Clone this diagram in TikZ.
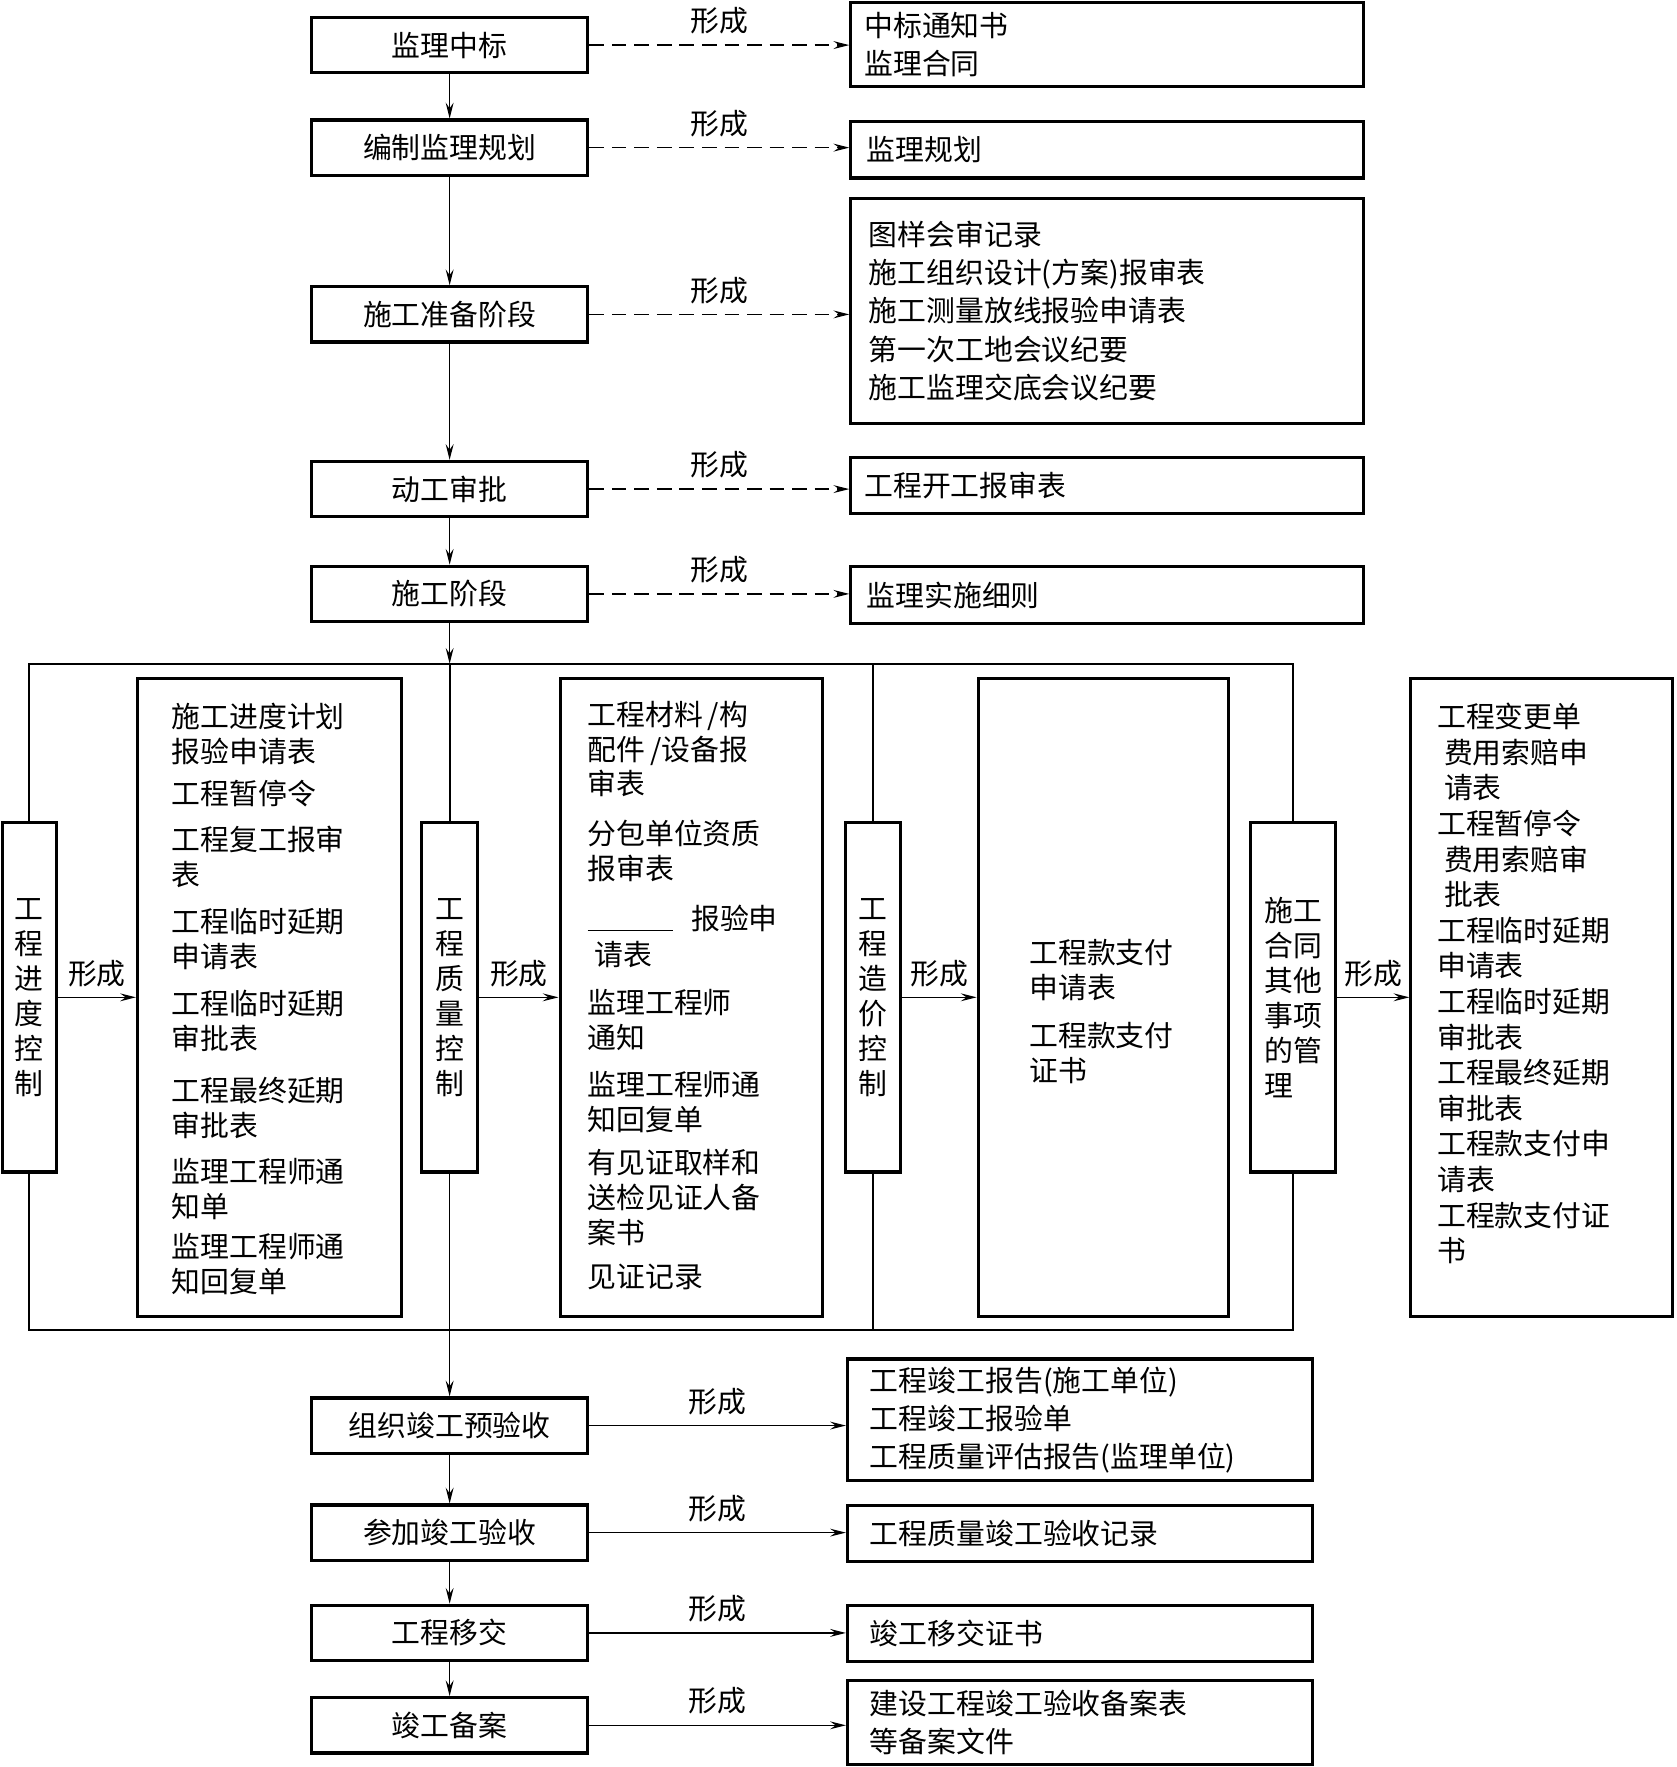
\documentclass[tikz,border=0pt]{standalone}
\usepackage{fontspec}
\setmainfont{Noto Sans CJK SC}
\usepackage{tikz}
\usetikzlibrary{positioning, arrows.meta, calc}

\tikzset{
  stagebox/.style={draw, line width=1.4pt, minimum width=122.5pt, minimum height=24.5pt, inner sep=0pt},
  docbox/.style={draw, line width=1.4pt, align=left, inner ysep=0pt, text width=#1,
    font=\fontsize{12.8pt}{17pt}\selectfont},
  ctrlbox/.style={draw, line width=1.4pt, minimum height=155pt, inner sep=0pt},
  listbox/.style={draw, line width=1.4pt, minimum height=283pt, inner sep=0pt},
  listtext/.style={anchor=north west, align=left, inner sep=0pt},
  flow/.style={line width=0.6pt, -{Stealth[length=7pt, width=3.5pt, inset=2.5pt]}},
  form/.style={flow, dash pattern=on 6.5pt off 3.5pt},
  frame/.style={line width=0.9pt},
  tag/.style={above=3.5pt, inner sep=1pt},
}

\begin{document}
\begin{tikzpicture}[x=0.5pt, y=-0.5pt, font=\fontsize{12.8pt}{15.5pt}\selectfont]
  \useasboundingbox (0,0) rectangle (1488,1568);

  % main stages
  \node[stagebox] (s1) at (399,40) {监理中标};
  \node[stagebox] (s2) at (399,131) {编制监理规划};
  \node[stagebox] (s3) at (399,279) {施工准备阶段};
  \node[stagebox] (s4) at (399,434) {动工审批};
  \node[stagebox] (s5) at (399,527) {施工阶段};
  \node[stagebox] (s6) at (399,1265) {组织竣工预验收};
  \node[stagebox] (s7) at (399,1360) {参加竣工验收};
  \node[stagebox] (s8) at (399,1449) {工程移交};
  \node[stagebox] (s9) at (399,1531) {竣工备案};

  % documents
  \node[docbox=215.5pt, inner xsep=6pt, minimum height=37.5pt] (d1) at (982.5,39.5) {中标通知书\\监理合同};
  \node[docbox=213.5pt, inner xsep=7pt, minimum height=25pt] (d2) at (982.5,133) {监理规划};
  \node[docbox=211.5pt, inner xsep=8pt, minimum height=100pt] (d3) at (982.5,276)
    {图样会审记录\\施工组织设计(方案)报审表\\施工测量放线报验申请表\\第一次工地会议纪要\\施工监理交底会议纪要};
  \node[docbox=215.5pt, inner xsep=6pt, minimum height=25pt] (d4) at (982.5,431) {工程开工报审表};
  \node[docbox=213.5pt, inner xsep=7pt, minimum height=25pt] (d5) at (982.5,528) {监理实施细则};
  \node[docbox=186.5pt, inner xsep=10pt, minimum height=54pt] (e1) at (958.5,1260)
    {工程竣工报告(施工单位)\\工程竣工报验单\\工程质量评估报告(监理单位)};
  \node[docbox=186.5pt, inner xsep=10pt, minimum height=25pt] (e2) at (958.5,1361) {工程质量竣工验收记录};
  \node[docbox=186.5pt, inner xsep=10pt, minimum height=24.5pt] (e3) at (958.5,1449.5) {竣工移交证书};
  \node[docbox=186.5pt, inner xsep=10pt, minimum height=37.5pt] (e4) at (958.5,1528.5) {建设工程竣工验收备案表\\等备案文件};

  % control boxes
  \node[ctrlbox, minimum width=24pt, align=center] (k1) at (26,885) {工\\程\\进\\度\\控\\制};
  \node[ctrlbox, minimum width=25pt, align=center] (k2) at (399,885) {工\\程\\质\\量\\控\\制};
  \node[ctrlbox, minimum width=24.5pt, align=center] (k3) at (774.5,885) {工\\程\\造\\价\\控\\制};
  \node[ctrlbox, minimum width=37.5pt, align=left] (k4) at (1147.5,885) {施工\\合同\\其他\\事项\\的管\\理};

  % lists
  \node[listbox, minimum width=117pt] (b1) at (239,885) {};
  \node[listbox, minimum width=116.5pt] (b2) at (613.5,885) {};
  \node[listbox, minimum width=111pt] (b3) at (979,885) {};
  \node[listbox, minimum width=116pt] (b4) at (1368,885) {};

  \node[listtext] (t1) at (152,623.5) {施工进度计划\\报验申请表\\[3pt]工程暂停令\\[5pt]工程复工报审\\表\\[5.5pt]%
    工程临时延期\\申请表\\[5.5pt]工程临时延期\\审批表\\[7.5pt]工程最终延期\\审批表\\[5pt]%
    监理工程师通\\知单\\[2pt]监理工程师通\\知回复单};
  \node[listtext] (t2) at (521,621.5) {工程材料\,/构\\配件\,/设备报\\审表\\[6.5pt]分包单位资质\\报审表\\[6.5pt]%
    \rule[-1pt]{38pt}{0.6pt}\hspace{8pt}报验申\\[0.5pt]\hspace*{3pt}请表\\[6pt]监理工程师\\通知\\[5.5pt]%
    监理工程师通\\知回复单\\[3.5pt]有见证取样和\\送检见证人备\\案书\\[4pt]见证记录};
  \node[listtext] (t3) at (913,833.5) {工程款支付\\申请表\\[5.5pt]工程款支付\\证书};
  \node[listtext, font=\fontsize{12.8pt}{15.8pt}\selectfont] (t4) at (1275,623.5)
    {工程变更单\\\hspace*{3pt}费用索赔申\\\hspace*{3pt}请表\\工程暂停令\\\hspace*{3pt}费用索赔审\\\hspace*{3pt}批表\\%
    工程临时延期\\申请表\\工程临时延期\\审批表\\工程最终延期\\审批表\\工程款支付申\\请表\\工程款支付证\\书};

  % frame
  \coordinate (ftop) at (0,589);
  \coordinate (fbot) at (0,1180);
  \draw[frame] (k1.north) -- (k1.north |- ftop) -- (k4.north |- ftop) -- (k4.north);
  \draw[frame] (k1.south) -- (k1.south |- fbot) -- (k4.south |- fbot) -- (k4.south);
  \draw[frame] (k2.north) -- (k2.north |- ftop);
  \draw[frame] (k3.north) -- (k3.north |- ftop);
  \draw[frame] (k3.south) -- (k3.south |- fbot);

  % flow
  \draw[flow] (s1) -- (s2);
  \draw[flow] (s2) -- (s3);
  \draw[flow] (s3) -- (s4);
  \draw[flow] (s4) -- (s5);
  \draw[flow] (s5.south) -- (s5.south |- ftop);
  \draw[flow] (k2.south) -- (s6.north);
  \draw[flow] (s6) -- (s7);
  \draw[flow] (s7) -- (s8);
  \draw[flow] (s8) -- (s9);

  \draw[form] (s1.east) -- (s1.east -| d1.west) node[tag, midway] (f1) {形成};
  \draw[form] (s2.east) -- (s2.east -| d2.west) node[tag, midway] (f2) {形成};
  \draw[form] (s3.east) -- (s3.east -| d3.west) node[tag, midway] (f3) {形成};
  \draw[form] (s4.east) -- (s4.east -| d4.west) node[tag, midway] (f4) {形成};
  \draw[form] (s5.east) -- (s5.east -| d5.west) node[tag, midway] (f5) {形成};

  \draw[flow] (k1.east) -- (b1.west) node[tag, midway] (f6) {形成};
  \draw[flow] (k2.east) -- (b2.west) node[tag, midway] (f7) {形成};
  \draw[flow] (k3.east) -- (b3.west) node[tag, midway] (f8) {形成};
  \draw[flow] (k4.east) -- (b4.west) node[tag, midway] (f9) {形成};

  \draw[flow] (s6.east) -- (s6.east -| e1.west) node[tag, midway] (f10) {形成};
  \draw[flow] (s7.east) -- (s7.east -| e2.west) node[tag, midway] (f11) {形成};
  \draw[flow] (s8.east) -- (s8.east -| e3.west) node[tag, midway] (f12) {形成};
  \draw[flow] (s9.east) -- (s9.east -| e4.west) node[tag, midway] (f13) {形成};
\end{tikzpicture}
\end{document}
